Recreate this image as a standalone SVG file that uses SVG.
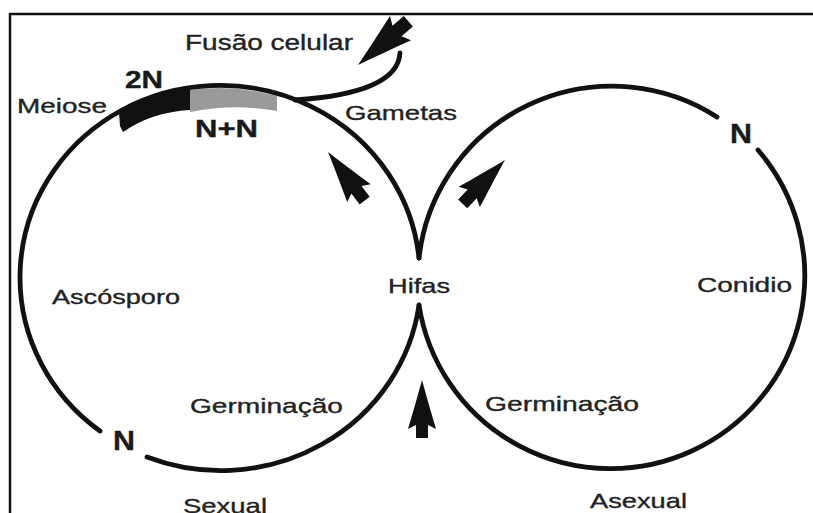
<svg xmlns="http://www.w3.org/2000/svg" width="813" height="513" viewBox="0 0 813 513">
<style>
.t{font-family:"Liberation Sans",Arial,sans-serif;font-size:21px;fill:#222;stroke:#222;stroke-width:0.35}
.b{font-weight:bold;fill:#1a1a1a;stroke:#1a1a1a}
.ln{fill:none;stroke:#111;stroke-width:4.8;stroke-linecap:round}
.ar{fill:#111}
</style>
<defs>
<path id="arr" d="M0,0 C4,15 9,32 14,49 L6,45 L6,58 L-6,58 L-6,45 L-14,49 C-9,32 -4,15 0,0 Z"/>
</defs>
<rect width="813" height="513" fill="#fff"/>
<path d="M10,513 V14 H813" fill="none" stroke="#111" stroke-width="2.5"/>
<g id="sexual-cycle">
<path d="M119,113 Q155,92 190,88 L190,110 Q152,112 123,132 L120,126 Z" fill="#111"/>
<path d="M190,90 Q233,84 277,96 L277,111 Q233,103 190,112 Z" fill="#9a9a9a"/>
<path class="ln" d="M419,258 A200,192 0 1 0 100,431"/>
<path class="ln" d="M147,457 A200,192 0 0 0 419,305"/>
<path class="ln" d="M295,100 C340,97 398,88 400,53"/>
</g>
<g id="asexual-cycle">
<path class="ln" d="M419,258 A194,193 0 0 1 717,117"/>
<path class="ln" d="M758,150 A194,193 0 1 1 419,305"/>
</g>
<g id="connectors">
<use href="#arr" class="ar" transform="translate(358,65) rotate(-131) scale(1.15)"/>
<use href="#arr" class="ar" transform="translate(328,152) rotate(-37) scale(1.05)"/>
<use href="#arr" class="ar" transform="translate(505,160) rotate(44) scale(1.05)"/>
<use href="#arr" class="ar" transform="translate(422,380)"/>
</g>
<g id="labels">
<text class="t" x="185" y="50" style="font-size:22px" textLength="168" lengthAdjust="spacingAndGlyphs">Fusão celular</text>
<text class="t b" x="125" y="88" style="font-size:24px" textLength="38" lengthAdjust="spacingAndGlyphs">2N</text>
<text class="t" x="17" y="113" textLength="90" lengthAdjust="spacingAndGlyphs">Meiose</text>
<text class="t b" x="195" y="137" style="font-size:23px" textLength="63" lengthAdjust="spacingAndGlyphs">N+N</text>
<text class="t" x="345" y="120" textLength="112" lengthAdjust="spacingAndGlyphs">Gametas</text>
<text class="t" x="52" y="304" textLength="128" lengthAdjust="spacingAndGlyphs">Ascósporo</text>
<text class="t" x="388" y="293" textLength="62" lengthAdjust="spacingAndGlyphs">Hifas</text>
<text class="t" x="697" y="292" textLength="95" lengthAdjust="spacingAndGlyphs">Conidio</text>
<text class="t" x="190" y="413" textLength="153" lengthAdjust="spacingAndGlyphs">Germinação</text>
<text class="t" x="485" y="411" textLength="154" lengthAdjust="spacingAndGlyphs">Germinação</text>
<text class="t b" x="113" y="450" style="font-size:27px" textLength="22" lengthAdjust="spacingAndGlyphs">N</text>
<text class="t b" x="730" y="143" style="font-size:27px" textLength="22" lengthAdjust="spacingAndGlyphs">N</text>
<text class="t" x="183" y="513" textLength="84" lengthAdjust="spacingAndGlyphs">Sexual</text>
<text class="t" x="590" y="508" textLength="97" lengthAdjust="spacingAndGlyphs">Asexual</text>
</g>
</svg>
